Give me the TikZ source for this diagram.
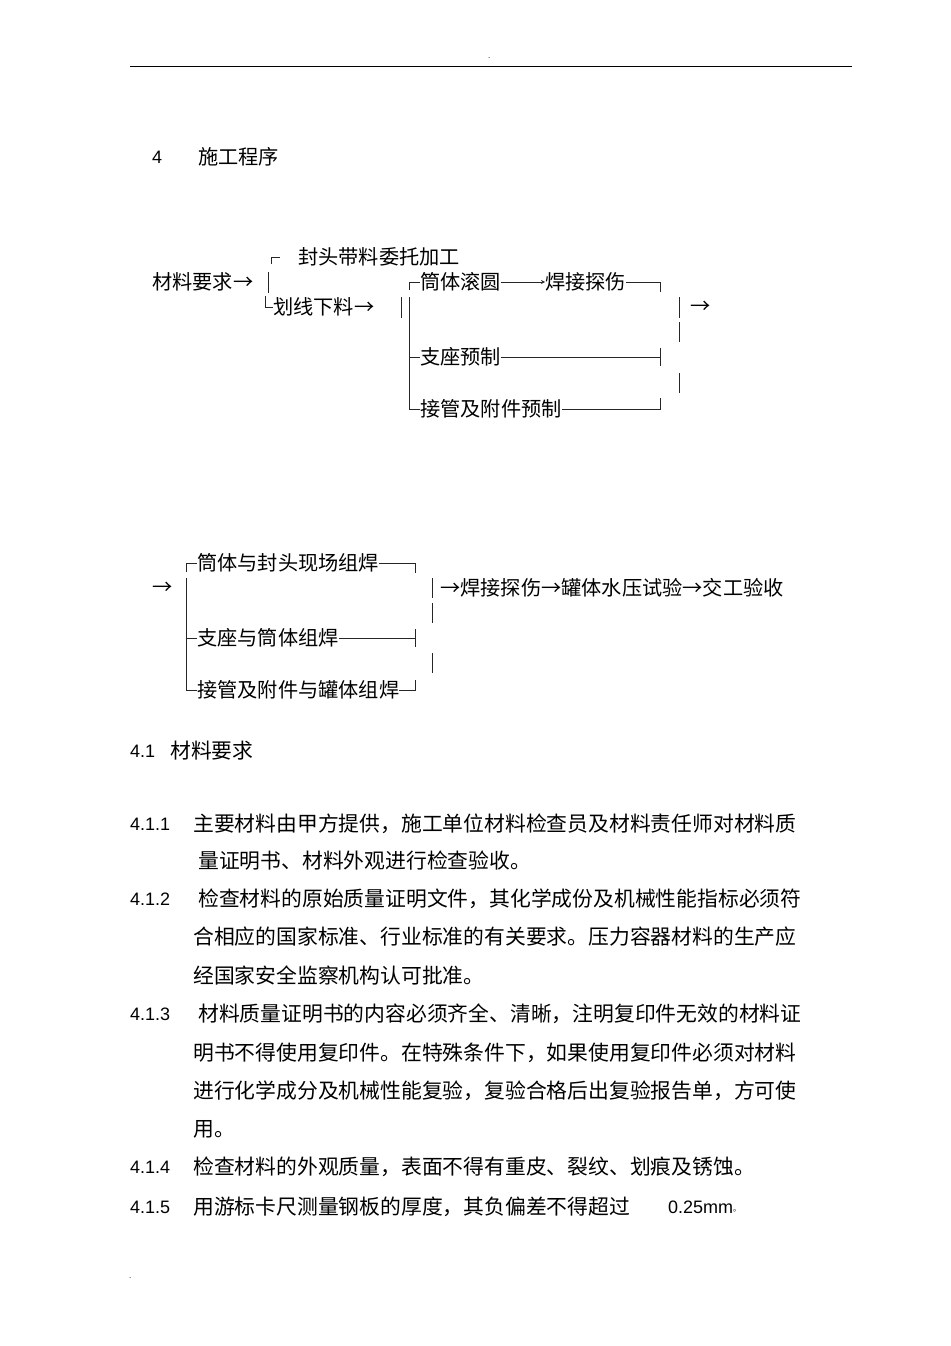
\documentclass[tikz,border=0pt]{standalone}
\usepackage{fontspec}
\setmainfont{Liberation Sans}
\newfontfamily\cjk{Noto Sans CJK SC}
\begin{document}
\begin{tikzpicture}[x=1pt,y=-1pt,
  t/.style={anchor=west,inner sep=0pt,font=\cjk\fontsize{20.2}{22}\selectfont},
  p/.style={anchor=west,inner sep=0pt,font=\cjk\fontsize{20.8}{24}\selectfont},
  n/.style={anchor=west,inner sep=0pt,font=\fontsize{18}{22}\selectfont},
  ln/.style={line width=0.8pt,black!85}]
\useasboundingbox[fill=white] (0,0) rectangle (950,1346);
\draw[line width=1pt] (130,67) -- (852,67);
\node[n,font=\fontsize{8}{8}\selectfont] (d1) at (488,58) {.};
\node[n,font=\fontsize{8}{8}\selectfont] (d2) at (129,1278) {.};
\node[n] (h4) at (152,157) {4};
\node[t] (h4t) at (198,157) {施工程序};
% chart 1
\node[t] (a0) at (152,282) {材料要求→};
\node[t] (a1) at (298,257) {封头带料委托加工};
\node[t] (a2) at (273,307) {划线下料→};
\node[t] (b1) at (420,282) {筒体滚圆};
\node[t] (b2) at (545,282) {焊接探伤};
\node[t] (b3) at (420,357) {支座预制};
\node[t] (b4) at (420,409) {接管及附件预制};
\node[t] (b5) at (690,307) {→};
\draw[ln] (271,264) -- (271,257) -- (280,257);
\draw[ln] (268,272) -- (268,293);
\draw[ln] (265,296) |- (a2.west);
\draw[ln] (401,297) -- (401,318);
\draw[ln] (409,290) |- (b1.west);
\draw[ln] (409,297) |- (b4.west);
\draw[ln] (409,357) |- (b3.west);
\draw[ln,->,>=stealth] (b1.east) -- (b2.west);
\draw[ln] (b2.east) -| (660,292);
\draw[ln] (b3.east) -- (b3.east -| 660,0);
\draw[ln] (660,348) -- (660,366);
\draw[ln] (b4.east) -| (660,398);
\draw[ln] (679,297) -- (679,318);
\draw[ln] (679,322) -- (679,342);
\draw[ln] (679,373) -- (679,393);
% chart 2
\node[t] (c0) at (152,588) {→};
\node[t] (c1) at (197,563) {筒体与封头现场组焊};
\node[t] (c2) at (197,638) {支座与筒体组焊};
\node[t] (c3) at (197,690) {接管及附件与罐体组焊};
\node[t] (c4) at (440,588) {→焊接探伤→罐体水压试验→交工验收};
\draw[ln] (186,572) |- (c1.west);
\draw[ln] (186,578) |- (c3.west);
\draw[ln] (186,638) -- (c2.west);
\draw[ln] (c1.east) -| (415,573);
\draw[ln] (c2.east) -- (c2.east -| 415,0);
\draw[ln] (415,629) -- (415,647);
\draw[ln] (c3.east) -| (415,680);
\draw[ln] (432,578) -- (432,598);
\draw[ln] (432,603) -- (432,623);
\draw[ln] (432,653) -- (432,673);
% text
\node[n] (s41) at (130,751) {4.1};
\node[p] (s41t) at (170,751) {材料要求};
\node[n] (s1) at (130,824) {4.1.1};
\node[p] (l1) at (193,824) {主要材料由甲方提供，施工单位材料检查员及材料责任师对材料质};
\node[p] (l2) at (198,861) {量证明书、材料外观进行检查验收。};
\node[n] (s2) at (130,899) {4.1.2};
\node[p] (l3) at (198,899) {检查材料的原始质量证明文件，其化学成份及机械性能指标必须符};
\node[p] (l4) at (193,937) {合相应的国家标准、行业标准的有关要求。压力容器材料的生产应};
\node[p] (l5) at (193,975) {经国家安全监察机构认可批准。};
\node[n] (s3) at (130,1014) {4.1.3};
\node[p] (l6) at (198,1014) {材料质量证明书的内容必须齐全、清晰，注明复印件无效的材料证};
\node[p] (l7) at (193,1053) {明书不得使用复印件。在特殊条件下，如果使用复印件必须对材料};
\node[p] (l8) at (193,1091) {进行化学成分及机械性能复验，复验合格后出复验报告单，方可使};
\node[p] (l9) at (193,1129) {用。};
\node[n] (s4) at (130,1167) {4.1.4};
\node[p] (l10) at (193,1167) {检查材料的外观质量，表面不得有重皮、裂纹、划痕及锈蚀。};
\node[n] (s5) at (130,1207) {4.1.5};
\node[p] (l11) at (193,1207) {用游标卡尺测量钢板的厚度，其负偏差不得超过};
\node[n] (l12) at (668,1207) {0.25mm};
\node[n,font=\cjk\fontsize{8}{8}\selectfont] (l13) at (733,1211) {。};
\end{tikzpicture}
\end{document}
